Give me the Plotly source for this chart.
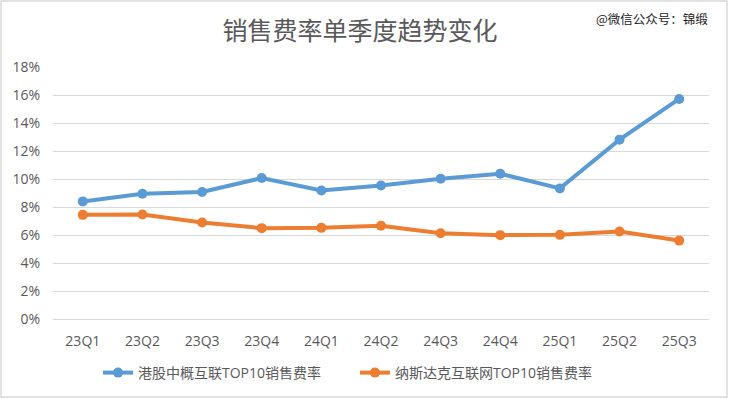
import plotly.graph_objects as go

quarters = ["23Q1", "23Q2", "23Q3", "23Q4", "24Q1", "24Q2", "24Q3", "24Q4", "25Q1", "25Q2", "25Q3"]
hk_rate = [8.4, 8.95, 9.07, 10.07, 9.18, 9.54, 10.02, 10.38, 9.33, 12.81, 15.72]
nasdaq_rate = [7.44, 7.47, 6.89, 6.49, 6.51, 6.66, 6.13, 5.99, 6.01, 6.25, 5.60]
series_names = ["港股中概互联TOP10销售费率", "纳斯达克互联网TOP10销售费率"]
y_ticks = [0, 2, 4, 6, 8, 10, 12, 14, 16, 18]
y_tick_labels = ["0%", "2%", "4%", "6%", "8%", "10%", "12%", "14%", "16%", "18%"]

FONT = "Open Sans, Noto Sans CJK SC, sans-serif"
CJK = "Noto Sans CJK SC, sans-serif"
W, H = 729, 399
L, R, T, B = 53, 20, 67, 80
pw, ph = W - L - R, H - T - B

fig = go.Figure()
fig.add_trace(go.Scatter(x=quarters, y=hk_rate, name=series_names[0], mode="lines+markers",
                         line=dict(color="#5B9BD5", width=4), marker=dict(size=10, color="#5B9BD5")))
fig.add_trace(go.Scatter(x=quarters, y=nasdaq_rate, name=series_names[1], mode="lines+markers",
                         line=dict(color="#ED7D31", width=4), marker=dict(size=10, color="#ED7D31")))

def px_x(x):
    return (x - L) / pw

def px_y(y):
    return (H - B - y) / ph

fig.add_shape(type="rect", xref="paper", yref="paper",
              x0=px_x(1), x1=px_x(727), y0=px_y(397), y1=px_y(1),
              line=dict(color="#d9d9d9", width=1.5), fillcolor="rgba(0,0,0,0)", layer="below")

fig.add_annotation(text="@微信公众号：锦缎", xref="paper", yref="paper",
                   x=px_x(710), y=px_y(18), xanchor="right", yanchor="middle",
                   showarrow=False, font=dict(family=CJK, size=12.5, color="#222222"))

fig.update_layout(
    template="none",
    width=W, height=H,
    margin=dict(l=L, r=R, t=T, b=B, autoexpand=False),
    paper_bgcolor="white", plot_bgcolor="white",
    title=dict(text="销售费率单季度趋势变化", x=360 / W, xanchor="center",
               y=1 - 31 / H, yanchor="middle", font=dict(family=CJK, size=25, color="#595959")),
    font=dict(family=FONT, size=14, color="#595959"),
    showlegend=True,
    legend=dict(orientation="h", xref="container", yref="container",
                x=98 / W, xanchor="left", y=1 - 373 / H, yanchor="middle",
                font=dict(family=FONT, size=14, color="#595959"),
                itemwidth=30, entrywidth=212, bgcolor="rgba(0,0,0,0)"),
)
fig.update_xaxes(type="category", range=[-0.5, 10.5], showgrid=False, showline=False, ticks="",
                 zeroline=False, ticklabelstandoff=12,
                 tickfont=dict(family=FONT, size=14, color="#595959"))
fig.update_yaxes(range=[0, 18], tickmode="array", tickvals=y_ticks, ticktext=y_tick_labels,
                 showgrid=True, gridcolor="#d9d9d9", gridwidth=1,
                 zeroline=True, zerolinecolor="#d9d9d9", zerolinewidth=1,
                 showline=False, ticks="", ticklabelstandoff=12,
                 tickfont=dict(family=FONT, size=14, color="#595959"))

fig.write_html("out.html", config={"displayModeBar": False},
               post_script="document.body.style.margin='0';")
